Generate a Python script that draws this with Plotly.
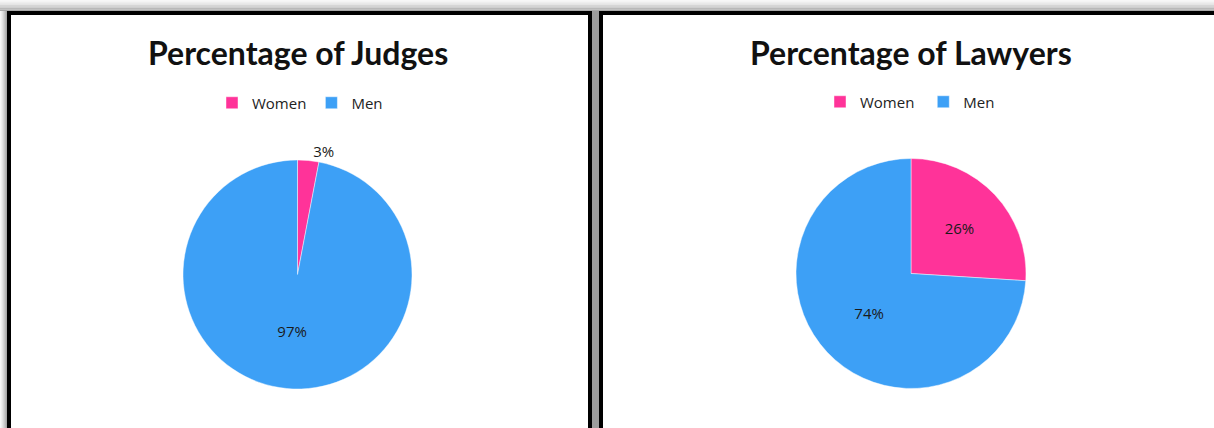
import plotly.graph_objects as go

W, H = 1214, 428

labels = ["Women", "Men"]
judges_values = [3, 97]
lawyers_values = [26, 74]
titles = ["Percentage of Judges", "Percentage of Lawyers"]
colors = ["#FF3399", "#3DA0F6"]


def px(x):
    return x / W


def py(y):
    return 1 - y / H


fig = go.Figure()

fig.add_trace(go.Pie(
    labels=labels, values=judges_values, sort=False, direction="clockwise", rotation=0,
    marker=dict(colors=colors, line=dict(color="rgba(255,255,255,0.45)", width=1)),
    textinfo="percent", textposition=["outside", "inside"],
    insidetextorientation="horizontal",
    textfont=dict(family="Open Sans", size=15, color="#1a1a1a"),
    domain=dict(x=[px(183), px(412)], y=[py(390), py(159)]),
    legend="legend", hoverinfo="label+percent",
))
# trailing space keeps the second pie's legend entries separate from the first one's
fig.add_trace(go.Pie(
    labels=[l + " " for l in labels], values=lawyers_values, sort=False, direction="clockwise", rotation=0,
    marker=dict(colors=colors, line=dict(color="rgba(255,255,255,0.45)", width=1)),
    textinfo="percent", textposition="inside",
    insidetextorientation="horizontal",
    textfont=dict(family="Open Sans", size=15, color="#1a1a1a"),
    domain=dict(x=[px(796), px(1026)], y=[py(389), py(158)]),
    legend="legend2", hoverinfo="label+percent",
))

shapes = []
grad = ["#f7f7f7", "#eeeeee", "#e3e3e3", "#d6d6d6", "#c8c8c8", "#b8b8b8", "#a8a8a8"]
n = len(grad)
for i, c in enumerate(grad):
    shapes.append(dict(type="rect", xref="paper", yref="paper", layer="below",
                       x0=0, x1=1, y0=py(11 * (i + 1) / n), y1=py(11 * i / n),
                       fillcolor=c, line=dict(width=0)))
    shapes.append(dict(type="rect", xref="paper", yref="paper", layer="below",
                       x0=px(7 * i / n), x1=px(7 * (i + 1) / n), y0=0, y1=py(11),
                       fillcolor=c, line=dict(width=0)))
shapes.append(dict(type="rect", xref="paper", yref="paper", layer="below",
                   x0=px(590), x1=px(601), y0=0, y1=py(11),
                   fillcolor="#9c9c9c", line=dict(width=0)))
for x0, x1 in [(9, 590), (601, 1230)]:
    shapes.append(dict(type="rect", xref="paper", yref="paper", layer="below",
                       x0=px(x0), x1=px(x1), y0=py(450), y1=py(13),
                       fillcolor="white", line=dict(color="black", width=4)))

annotations = []
for t, cx in zip(titles, [298, 911]):
    annotations.append(dict(text="<b>" + t + "</b>", x=px(cx), y=py(52), xref="paper", yref="paper",
                            showarrow=False, xanchor="center", yanchor="middle",
                            font=dict(family="Lato", size=32, color="#111111")))

legend_common = dict(orientation="h", xanchor="center", yanchor="middle",
                     font=dict(family="Open Sans", size=15, color="#222222"),
                     bgcolor="rgba(0,0,0,0)", itemwidth=30, tracegroupgap=0)

fig.update_layout(
    width=W, height=H,
    margin=dict(l=0, r=0, t=0, b=0),
    paper_bgcolor="white", plot_bgcolor="white",
    shapes=shapes, annotations=annotations,
    legend=dict(x=px(300), y=py(103), **legend_common),
    legend2=dict(x=px(912), y=py(102), **legend_common),
    showlegend=True,
)

fig.write_html("out.html", config={"displayModeBar": False},
               post_script="document.body.style.margin='0';document.body.style.padding='0';")
